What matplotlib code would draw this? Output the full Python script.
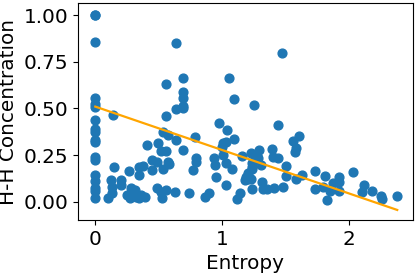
import matplotlib
matplotlib.use("Agg")
import matplotlib.pyplot as plt
import numpy as np

entropy = [0, 0, 0, 0, 0, 0, 0, 0, 0, 0, 0, 0, 0, 0, 0, 0, 0, 0,
           0.139, 0.100, 0.126, 0.131, 0.131, 0.147, 0.206, 0.206, 0.253, 0.271,
           0.266, 0.285, 0.31, 0.324, 0.345, 0.364, 0.39, 0.345, 0.345, 0.376,
           0.408, 0.447, 0.45, 0.487, 0.495, 0.487, 0.52, 0.56, 0.53, 0.52,
           0.56, 0.534, 0.574, 0.534, 0.574, 0.582, 0.556, 0.556, 0.635, 0.635,
           0.635, 0.627, 0.693, 0.693, 0.693, 0.693, 0.693, 0.693, 0.74, 0.772,
           0.785, 0.793, 0.798, 0.864, 0.898, 0.935, 0.943, 0.951, 0.977, 1.009,
           1.03, 1.004, 1.04, 1.009, 1.03, 1.03, 1.056, 1.077, 1.096, 1.096,
           1.119, 1.141, 1.162, 1.18, 1.188, 1.206, 1.206, 1.233, 1.233, 1.241,
           1.241, 1.241, 1.236, 1.254, 1.26, 1.273, 1.285, 1.293, 1.307, 1.317,
           1.325, 1.352, 1.396, 1.404, 1.412, 1.443, 1.443, 1.475, 1.483, 1.507,
           1.507, 1.562, 1.578, 1.583, 1.586, 1.607, 1.633, 1.736, 1.736, 1.799,
           1.815, 1.831, 1.852, 1.873, 1.926, 1.926, 1.926, 2.036, 2.107, 2.123,
           2.186, 2.258, 2.265, 2.384]
hh_conc = [1.0, 1.0, 0.857, 0.557, 0.522, 0.51, 0.439, 0.389, 0.376, 0.33, 0.318,
           0.239, 0.225, 0.144, 0.114, 0.073, 0.06, 0.02,
           0.465, 0.020, 0.118, 0.082, 0.046, 0.186, 0.118, 0.091, 0.037, 0.020,
           0.167, 0.073, 0.064, 0.028, 0.020, 0.037, 0.028, 0.144, 0.186, 0.193,
           0.305, 0.171, 0.225, 0.215, 0.314, 0.073, 0.055, 0.064, 0.020, 0.273,
           0.273, 0.376, 0.36, 0.175, 0.215, 0.203, 0.631, 0.46, 0.849, 0.496,
           0.332, 0.052, 0.661, 0.587, 0.555, 0.513, 0.501, 0.278, 0.046, 0.171,
           0.349, 0.234, 0.215, 0.028, 0.046, 0.234, 0.198, 0.135, 0.421, 0.314,
           0.321, 0.296, 0.385, 0.251, 0.21, 0.091, 0.661, 0.175, 0.551, 0.335,
           0.016, 0.046, 0.246, 0.118, 0.135, 0.153, 0.121, 0.121, 0.264, 0.207,
           0.186, 0.175, 0.068, 0.517, 0.228, 0.246, 0.234, 0.278, 0.198, 0.107,
           0.068, 0.068, 0.282, 0.242, 0.073, 0.41, 0.237, 0.795, 0.079, 0.191,
           0.141, 0.325, 0.266, 0.29, 0.125, 0.351, 0.143, 0.164, 0.068, 0.079,
           0.137, 0.011, 0.059, 0.1, 0.132, 0.109, 0.059, 0.159, 0.052, 0.089,
           0.059, 0.034, 0.016, 0.03]

fit_x = [0.0, 2.384]
fit_y = [0.51, -0.043]

fig = plt.figure(figsize=(4.16, 2.73), dpi=100)
ax = fig.add_axes([0.188, 0.194, 0.804, 0.794])
ax.scatter(entropy, hh_conc, s=40, color="#1f77b4", zorder=2)
ax.plot(fit_x, fit_y, color="orange", lw=1.6, zorder=3)
ax.set_xlim(-0.135, 2.506)
ax.set_ylim(-0.097, 1.063)
ax.set_xticks([0, 1, 2])
ax.set_yticks([0, 0.25, 0.5, 0.75, 1.0])
ax.set_yticklabels(["0.00", "0.25", "0.50", "0.75", "1.00"])
ax.tick_params(labelsize=14.4)
ax.set_xlabel("Entropy", fontsize=14.4)
ax.set_ylabel("H-H Concentration", fontsize=14.4)
fig.savefig("out.png", dpi=100)
